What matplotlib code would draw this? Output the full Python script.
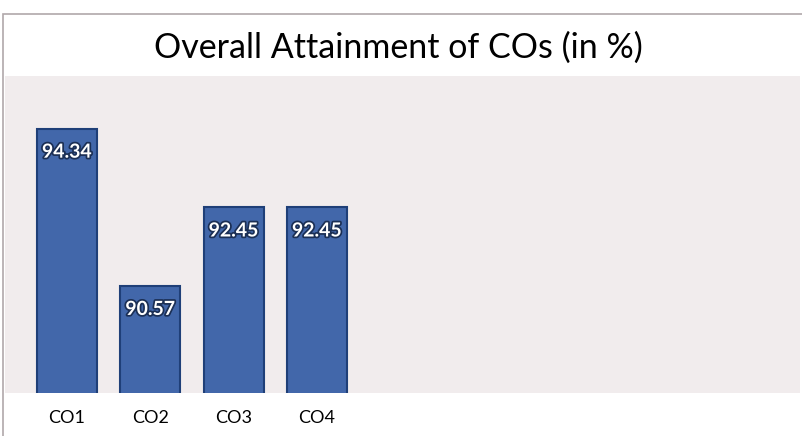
import matplotlib
matplotlib.use("Agg")
import matplotlib.pyplot as plt
import matplotlib.patheffects as pe
from matplotlib.patches import Rectangle

categories = ["CO1", "CO2", "CO3", "CO4"]
values = [94.34, 90.57, 92.45, 92.45]
value_labels = ["94.34", "90.57", "92.45", "92.45"]
title = "Overall Attainment of COs (in %)"

W, H = 802, 436
fig = plt.figure(figsize=(W / 100, H / 100), dpi=100)
fig.patch.set_facecolor("white")

# axes placement in pixels
L, R = 5, 800
bottom_px, top_px = 393, 76
ax = fig.add_axes([L / W, (H - bottom_px) / H, (R - L) / W, (bottom_px - top_px) / H])
ax.set_facecolor("#f1eced")

x = list(range(len(categories)))
ax.bar(x, values, width=0.72, color="#4267aa", edgecolor="#1f3f78", linewidth=1.5,
       bottom=0, zorder=3)
ax.set_ylim(88, 95.6)
ax.set_xlim(-0.744, 8.80)

for xi, v, lab in zip(x, values, value_labels):
    t = ax.annotate(lab, (xi, v), xytext=(0, -17), textcoords="offset points",
                    ha="center", va="center", color="white", fontsize=14,
                    fontweight="bold", family="Lato", zorder=5)
    t.set_path_effects([pe.withStroke(linewidth=2.5, foreground="#1b2f55")])

ax.set_xticks(x)
ax.set_xticklabels(categories, fontsize=13, family="Lato", color="black")
ax.tick_params(axis="x", length=0, pad=12)
ax.set_yticks([])
for s in ax.spines.values():
    s.set_visible(False)

fig.text(398 / W, 1 - 48 / H, title, ha="center", va="center", fontsize=24.5,
         family="Lato", color="black")

# outer border of the chart area
fig.patches.append(Rectangle((3 / W, -0.1), 1.2, 1 - 14 / H + 0.1, transform=fig.transFigure,
                             fill=False, edgecolor="#b0a8aa", linewidth=1.2))

fig.savefig("out.png", dpi=100, facecolor="white")
